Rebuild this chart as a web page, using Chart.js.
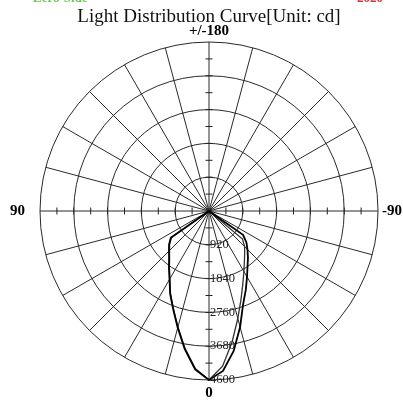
<!DOCTYPE html>
<html>
<head>
<meta charset="utf-8">
<script src="https://cdn.jsdelivr.net/npm/chart.js@4/dist/chart.umd.min.js"></script>
<style>
  html, body { margin: 0; padding: 0; background: #fff; }
  #chart { display: block; }
</style>
</head>
<body>
<canvas id="chart" width="403" height="403"></canvas>
<script>
// angles in degrees, 0 at the bottom, 90 left, 180 top, 270 (-90) right
const angles = [
    0, 5, 10, 15, 20, 25, 30, 35, 40, 45, 50, 55,
    60, 65, 70, 75, 80, 85, 90, 95, 100, 105, 110, 115,
    120, 125, 130, 135, 140, 145, 150, 155, 160, 165, 170, 175,
    180, 185, 190, 195, 200, 205, 210, 215, 220, 225, 230, 235,
    240, 245, 250, 255, 260, 265, 270, 275, 280, 285, 290, 295,
    300, 305, 310, 315, 320, 325, 330, 335, 340, 345, 350, 355
];

// intensity in cd, one value per angle
const curveA = [
    4600, 4330, 3810, 3290, 2850, 2500, 2150, 1900, 1690, 1540, 1420, 1270,
    0, 0, 0, 0, 0, 0, 0, 0, 0, 0, 0, 0,
    0, 0, 0, 0, 0, 0, 0, 0, 0, 0, 0, 0,
    0, 0, 0, 0, 0, 0, 0, 0, 0, 0, 0, 0,
    0, 0, 0, 0, 0, 0, 0, 0, 0, 0, 0, 0,
    0, 1130, 1330, 1480, 1650, 1830, 2070, 2370, 2710, 3270, 3870, 4370
];

const curveB = [
    4600, 4300, 3790, 3270, 2830, 2480, 2130, 1880, 1670, 1520, 1400, 1240,
    0, 0, 0, 0, 0, 0, 0, 0, 0, 0, 0, 0,
    0, 0, 0, 0, 0, 0, 0, 0, 0, 0, 0, 0,
    0, 0, 0, 0, 0, 0, 0, 0, 0, 0, 0, 0,
    0, 0, 0, 0, 0, 0, 0, 0, 0, 0, 0, 0,
    0, 0, 1190, 1370, 1510, 1680, 1900, 2180, 2550, 3030, 3620, 4240
];

const tickValues = [920, 1840, 2760, 3680, 4600];
const minorStep = 460;

const axisLabels = { 0: '0', 90: '90', 180: '+/-180', 270: '-90' };

const titleText = 'Light Distribution Curve[Unit: cd]';

// extra text drawn on top: title, axis labels, tick labels, axis tick marks
const decorations = {
    id: 'decorations',
    afterDraw(chart) {
        const ctx = chart.ctx;
        const s = chart.scales.r;
        const cx = s.xCenter, cy = s.yCenter, R = s.drawingArea;
        ctx.save();

        // header strip, mostly cut off at the top
        ctx.font = 'bold 13px "Liberation Serif"';
        ctx.textBaseline = 'alphabetic';
        ctx.textAlign = 'left';
        ctx.fillStyle = '#66cc44';
        ctx.fillText('Zero-Side', 33, 2);
        ctx.fillStyle = '#dd3333';
        ctx.fillText('2020', 357, 2);

        ctx.fillStyle = '#111';
        ctx.font = '19px "Liberation Serif"';
        ctx.textAlign = 'center';
        ctx.fillText(titleText, cx, 22);

        // axis tick marks
        ctx.strokeStyle = '#222';
        ctx.lineWidth = 1;
        for (let v = minorStep; v < s.max; v += minorStep) {
            const d = s.getDistanceFromCenterForValue(v);
            ctx.beginPath();
            ctx.moveTo(cx - 3.5, cy + d); ctx.lineTo(cx + 3.5, cy + d);
            ctx.moveTo(cx - 3.5, cy - d); ctx.lineTo(cx + 3.5, cy - d);
            ctx.moveTo(cx + d, cy - 3.5); ctx.lineTo(cx + d, cy + 3.5);
            ctx.moveTo(cx - d, cy - 3.5); ctx.lineTo(cx - d, cy + 3.5);
            ctx.stroke();
        }

        // tick labels along the 0 axis
        ctx.font = '12.5px "Liberation Serif"';
        ctx.fillStyle = '#222';
        ctx.textAlign = 'left';
        ctx.textBaseline = 'middle';
        tickValues.forEach(v => {
            ctx.fillText(String(v), cx + 1, cy + s.getDistanceFromCenterForValue(v));
        });

        // angle labels
        ctx.font = 'bold 15px "Liberation Serif"';
        ctx.fillStyle = '#000';
        angles.forEach((a, i) => {
            const text = axisLabels[a];
            if (!text) return;
            if (a === 0) {
                const p = s.getPointPosition(i, R + 6);
                ctx.textAlign = 'center'; ctx.textBaseline = 'top';
                ctx.fillText(text, p.x, p.y);
            } else if (a === 180) {
                const p = s.getPointPosition(i, R + 3);
                ctx.textAlign = 'center'; ctx.textBaseline = 'bottom';
                ctx.fillText(text, p.x, p.y);
            } else if (a === 90) {
                const p = s.getPointPosition(i, R + 15);
                ctx.textAlign = 'right'; ctx.textBaseline = 'middle';
                ctx.fillText(text, p.x, p.y);
            } else {
                const p = s.getPointPosition(i, R + 4);
                ctx.textAlign = 'left'; ctx.textBaseline = 'middle';
                ctx.fillText(text, p.x, p.y);
            }
        });
        ctx.restore();
    }
};

const bg = {
    id: 'bg',
    beforeDraw(chart) {
        const ctx = chart.ctx;
        ctx.save();
        ctx.fillStyle = '#fff';
        ctx.fillRect(0, 0, chart.width, chart.height);
        ctx.restore();
    }
};

new Chart(document.getElementById('chart'), {
    type: 'radar',
    data: {
        labels: angles,
        datasets: [{
            label: 'C0-C180',
            data: curveA,
            borderColor: '#000',
            borderWidth: 1.8,
            fill: false,
            pointRadius: 0
        }, {
            label: 'C90-C270',
            data: curveB,
            borderColor: '#333',
            borderWidth: 1.3,
            fill: false,
            pointRadius: 0
        }]
    },
    options: {
        responsive: false,
        animation: false,
        devicePixelRatio: 1,
        layout: { padding: { left: 40, right: 25, top: 42, bottom: 23 } },
        plugins: {
            legend: { display: false },
            tooltip: { enabled: false },
            title: { display: false }
        },
        elements: { line: { tension: 0 } },
        scales: {
            r: {
                min: 0,
                max: 4600,
                startAngle: 180,
                ticks: { display: false, stepSize: 920 },
                grid: { circular: true, color: '#2a2a2a', lineWidth: 1 },
                angleLines: {
                    color: ctx => (ctx.index % 3 === 0 ? '#2a2a2a' : 'rgba(0,0,0,0)'),
                    lineWidth: ctx => (ctx.index % 3 === 0 ? 1 : 0)
                },
                pointLabels: { display: false }
            }
        }
    },
    plugins: [bg, decorations]
});
</script>
</body>
</html>
